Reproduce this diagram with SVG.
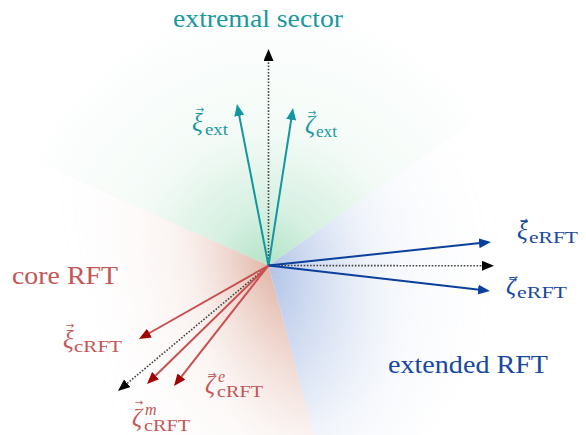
<svg xmlns="http://www.w3.org/2000/svg" width="586" height="435" viewBox="0 0 586 435">
<style>
.t{font-family:"Liberation Serif","Times New Roman",serif;}
.big{font-size:25px;}
.gr{font-size:25px;font-style:italic;}
.sub{font-size:17px;}
.sup{font-size:16px;font-style:italic;}
.vec{font-family:"DejaVu Sans",sans-serif;font-size:10px;text-anchor:middle;}
.teal{fill:#1a979f;}
.blue{fill:#1848a0;}
.red{fill:#c45656;}
.lt{stroke:#13969e;stroke-width:2;fill:none;}
.lb{stroke:#0b3f9c;stroke-width:2;fill:none;}
.lr{stroke:#c94f4f;stroke-width:2;fill:none;}
.ld{stroke:#444;stroke-width:1.6;stroke-dasharray:1.6,1.6;fill:none;}
</style>
<defs>
<radialGradient id="gG" cx="268.5" cy="265.5" r="270" gradientUnits="userSpaceOnUse">
<stop offset="0" stop-color="#b3e3c8" stop-opacity="1"/>
<stop offset="0.2" stop-color="#b3e3c8" stop-opacity="0.55"/>
<stop offset="0.5" stop-color="#b3e3c8" stop-opacity="0.15"/>
<stop offset="1" stop-color="#b3e3c8" stop-opacity="0"/>
</radialGradient>
<linearGradient id="gR" x1="268.5" y1="265.5" x2="80" y2="317" gradientUnits="userSpaceOnUse">
<stop offset="0" stop-color="#e2b6a8" stop-opacity="1"/>
<stop offset="0.4" stop-color="#e2b6a8" stop-opacity="0.32"/>
<stop offset="1" stop-color="#e2b6a8" stop-opacity="0"/>
</linearGradient>
<linearGradient id="gB" x1="268.5" y1="265.5" x2="530" y2="194" gradientUnits="userSpaceOnUse">
<stop offset="0" stop-color="#b0c3e7" stop-opacity="1"/>
<stop offset="0.4" stop-color="#b0c3e7" stop-opacity="0.35"/>
<stop offset="1" stop-color="#b0c3e7" stop-opacity="0"/>
</linearGradient>
<radialGradient id="mg" cx="268.5" cy="265.5" r="240" gradientUnits="userSpaceOnUse">
<stop offset="0" stop-color="#fff"/>
<stop offset="0.35" stop-color="#999"/>
<stop offset="0.7" stop-color="#333"/>
<stop offset="1" stop-color="#000"/>
</radialGradient>
<mask id="fade" maskUnits="userSpaceOnUse" x="0" y="0" width="586" height="435">
<rect x="0" y="0" width="586" height="435" fill="url(#mg)"/>
</mask>
<marker id="aT" markerUnits="userSpaceOnUse" markerWidth="13" markerHeight="11" refX="6" refY="5" orient="auto"><path d="M0,0 L12,5 L0,10 z" fill="#13969e"/></marker>
<marker id="aB" markerUnits="userSpaceOnUse" markerWidth="13" markerHeight="11" refX="6" refY="5" orient="auto"><path d="M0,0 L12,5 L0,10 z" fill="#0b3f9c"/></marker>
<marker id="aR" markerUnits="userSpaceOnUse" markerWidth="13" markerHeight="11" refX="6" refY="5" orient="auto"><path d="M0,0 L12,5 L0,10 z" fill="#a20000"/></marker>
<marker id="aK" markerUnits="userSpaceOnUse" markerWidth="13" markerHeight="11" refX="6" refY="5" orient="auto"><path d="M0,0 L12,5 L0,10 z" fill="#000"/></marker>
</defs>
<g id="sectors">
<polygon id="sector-ext" points="268.5,265.5 555.5,64.5 268.5,-84.5 -51.2,123.2" fill="url(#gG)"/>
<polygon id="sector-core" points="268.5,265.5 -51.2,123.2 -81.5,265.5 43.5,533.5 359.1,603.5" fill="url(#gR)" mask="url(#fade)"/>
<polygon id="sector-extended" points="268.5,265.5 359.1,603.5 571.5,440.5 618.5,265.5 555.5,64.5" fill="url(#gB)" mask="url(#fade)"/>
</g>
<g id="connectors">
<line class="ld" x1="268.5" y1="265.5" x2="268.5" y2="55" marker-end="url(#aK)"/>
<line class="lt" x1="268.5" y1="265.5" x2="238.1" y2="109.9" marker-end="url(#aT)"/>
<line class="lt" x1="268.5" y1="265.5" x2="292.1" y2="113.9" marker-end="url(#aT)"/>
<line class="ld" x1="268.5" y1="265.5" x2="488" y2="265.8" marker-end="url(#aK)"/>
<line class="lb" x1="268.5" y1="265.5" x2="485.0" y2="242.6" marker-end="url(#aB)"/>
<line class="lb" x1="268.5" y1="265.5" x2="484.0" y2="290.3" marker-end="url(#aB)"/>
<line class="ld" x1="268.5" y1="265.5" x2="122.6" y2="387.2" marker-end="url(#aK)"/>
<line class="lr" x1="268.5" y1="265.5" x2="144.2" y2="336.0" marker-end="url(#aR)"/>
<line class="lr" x1="268.5" y1="265.5" x2="151.3" y2="379.8" marker-end="url(#aR)"/>
<line class="lr" x1="268.5" y1="265.5" x2="177.7" y2="381.3" marker-end="url(#aR)"/>
</g>
<g id="label-extremal"><text class="t big teal" x="173" y="27" textLength="170" lengthAdjust="spacingAndGlyphs">extremal sector</text></g>
<g id="label-core"><text class="t big red" x="12" y="284" textLength="106" lengthAdjust="spacingAndGlyphs">core RFT</text></g>
<g id="label-extended"><text class="t big blue" x="388" y="373" textLength="160" lengthAdjust="spacingAndGlyphs">extended RFT</text></g>
<g id="xi-ext" class="teal">
<text class="vec" x="200" y="113">→</text>
<text class="t gr" x="192" y="131">ξ</text>
<text class="t sub" x="205" y="135" textLength="23" lengthAdjust="spacingAndGlyphs">ext</text>
</g>
<g id="zeta-ext" class="teal">
<text class="vec" x="312" y="116">→</text>
<text class="t gr" x="305" y="133">ζ</text>
<text class="t sub" x="316" y="137" textLength="21" lengthAdjust="spacingAndGlyphs">ext</text>
</g>
<g id="xi-eRFT" class="blue">
<text class="vec" x="524" y="224">→</text>
<text class="t gr" x="517" y="239">ξ</text>
<text class="t sub" x="529" y="243" textLength="49" lengthAdjust="spacingAndGlyphs">eRFT</text>
</g>
<g id="zeta-eRFT" class="blue">
<text class="vec" x="513" y="283">→</text>
<text class="t gr" x="506" y="294">ζ</text>
<text class="t sub" x="517" y="298" textLength="50" lengthAdjust="spacingAndGlyphs">eRFT</text>
</g>
<g id="xi-cRFT" class="red">
<text class="vec" x="70" y="329">→</text>
<text class="t gr" x="63" y="348">ξ</text>
<text class="t sub" x="74" y="352" textLength="48" lengthAdjust="spacingAndGlyphs">cRFT</text>
</g>
<g id="zeta-e-cRFT" class="red">
<text class="vec" x="212" y="378">→</text>
<text class="t gr" x="205" y="393">ζ</text>
<text class="t sup" x="218" y="382">e</text>
<text class="t sub" x="217" y="397" textLength="46" lengthAdjust="spacingAndGlyphs">cRFT</text>
</g>
<g id="zeta-m-cRFT" class="red">
<text class="vec" x="139" y="406">→</text>
<text class="t gr" x="132" y="426">ζ</text>
<text class="t sup" x="145" y="415">m</text>
<text class="t sub" x="144" y="431" textLength="46" lengthAdjust="spacingAndGlyphs">cRFT</text>
</g>
</svg>
